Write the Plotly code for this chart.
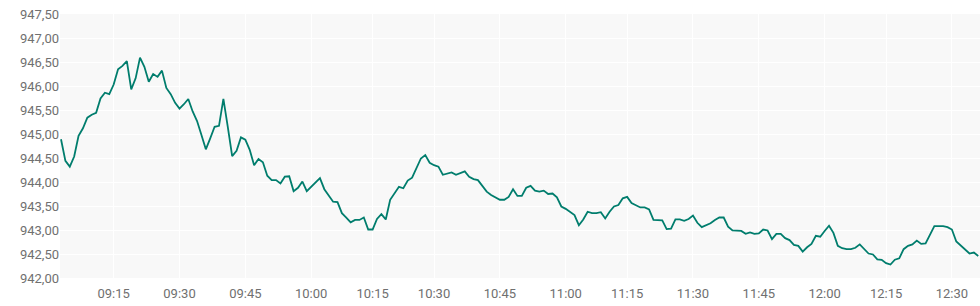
import datetime as dt
import plotly.graph_objects as go

# Price values, one per traded minute (ordinal axis, a few minutes absent)
prices = [
    944.89, 944.44, 944.32, 944.53, 944.96, 945.12, 945.34, 945.40, 945.44, 945.74,
    945.86, 945.83, 946.03, 946.35, 946.42, 946.52, 945.93, 946.16, 946.59, 946.40,
    946.09, 946.25, 946.19, 946.32, 945.96, 945.83, 945.65, 945.53, 945.62, 945.73,
    945.47, 945.27, 944.98, 944.68, 944.91, 945.15, 945.17, 945.73, 945.15, 944.54,
    944.65, 944.93, 944.88, 944.67, 944.35, 944.48, 944.41, 944.13, 944.04, 944.04,
    943.97, 944.11, 944.12, 943.81, 943.88, 944.01, 943.81, 943.90, 943.99, 944.08,
    943.85, 943.73, 943.59, 943.58, 943.35, 943.26, 943.16, 943.21, 943.21, 943.26,
    943.01, 943.01, 943.23, 943.33, 943.22, 943.63, 943.78, 943.90, 943.87, 944.03,
    944.09, 944.28, 944.49, 944.56, 944.40, 944.35, 944.32, 944.15, 944.18, 944.20,
    944.15, 944.19, 944.22, 944.11, 944.06, 944.04, 943.92, 943.80, 943.73, 943.68,
    943.63, 943.63, 943.69, 943.85, 943.71, 943.71, 943.88, 943.92, 943.82, 943.80,
    943.82, 943.75, 943.76, 943.68, 943.49, 943.44, 943.37, 943.31, 943.10, 943.22,
    943.38, 943.35, 943.35, 943.37, 943.24, 943.38, 943.49, 943.52, 943.66, 943.69,
    943.56, 943.51, 943.47, 943.47, 943.43, 943.21, 943.20, 943.20, 943.02, 943.03,
    943.22, 943.22, 943.19, 943.23, 943.30, 943.15, 943.06, 943.10, 943.14, 943.21,
    943.26, 943.26, 943.07, 942.99, 942.98, 942.98, 942.92, 942.95, 942.92, 942.93,
    943.01, 942.99, 942.81, 942.92, 942.92, 942.83, 942.79, 942.69, 942.67, 942.55,
    942.64, 942.71, 942.88, 942.86, 942.98, 943.09, 942.94, 942.67, 942.62, 942.60,
    942.60, 942.63, 942.70, 942.60, 942.51, 942.49, 942.39, 942.38, 942.31, 942.28,
    942.38, 942.41, 942.60, 942.67, 942.70, 942.78, 942.71, 942.72, 942.90, 943.08,
    943.08, 943.08, 943.06, 943.01, 942.76, 942.67, 942.58, 942.51, 942.53, 942.46,
]

session_start = "09:03"
missing_minutes = ["10:08", "10:23", "11:07", "12:09"]

x_tick_labels = ["09:15", "09:30", "09:45", "10:00", "10:15", "10:30", "10:45",
                 "11:00", "11:15", "11:30", "11:45", "12:00", "12:15", "12:30"]
y_tick_values = [942.0, 942.5, 943.0, 943.5, 944.0, 944.5, 945.0, 945.5,
                 946.0, 946.5, 947.0, 947.5]

# Build minute labels for each price (skipping the absent minutes)
times = []
t = dt.datetime.strptime(session_start, "%H:%M")
while len(times) < len(prices):
    lab = t.strftime("%H:%M")
    if lab not in missing_minutes:
        times.append(lab)
    t += dt.timedelta(minutes=1)

fig = go.Figure(
    go.Scatter(
        x=times, y=prices, mode="lines",
        line=dict(color="#007d6d", width=1.8),
        hoverinfo="skip",
    )
)

fig.update_layout(
    width=980, height=306,
    margin=dict(l=60, r=0, t=14, b=28),
    paper_bgcolor="white",
    plot_bgcolor="#f8f8f8",
    separators=",.",
    showlegend=False,
    font=dict(family="Roboto, sans-serif", size=13, color="#707070"),
)
fig.update_xaxes(
    type="category",
    range=[-0.23, 209.4],
    tickmode="array",
    tickvals=x_tick_labels,
    ticktext=x_tick_labels,
    showgrid=True, gridcolor="white", gridwidth=1,
    zeroline=False, showline=False, ticks="",
    ticklabelstandoff=6,
)
fig.update_yaxes(
    range=[942.0, 947.5],
    tickmode="array",
    tickvals=y_tick_values,
    tickformat=".2f",
    showgrid=True, gridcolor="white", gridwidth=1,
    zeroline=False, showline=False, ticks="",
)

fig.write_html("out.html")
